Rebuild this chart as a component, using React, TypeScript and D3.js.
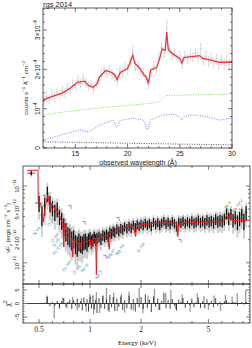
import React from 'react'
import * as d3 from 'd3'

// ---- top panel (RGS), units of 1e-4
const rgsModel: [number, number][] = [
  [11.9, 1.22], [12.5, 1.28], [13.0, 1.33], [13.7, 1.39], [14.5, 1.52], [15.2, 1.67], [15.9, 1.70],
  [16.2, 1.60], [16.7, 1.54], [17.1, 1.64], [17.3, 1.80], [17.9, 1.97], [18.5, 1.92], [18.8, 1.85],
  [19.0, 1.74], [19.3, 1.92], [20.0, 2.02], [20.2, 2.15], [20.5, 2.36], [20.7, 2.15], [21.2, 2.02],
  [21.6, 1.85], [21.8, 1.80], [22.0, 1.64], [22.2, 1.98], [22.8, 2.05], [23.1, 2.30], [23.3, 2.52],
  [23.6, 2.48], [23.75, 2.95], [23.9, 2.50], [24.3, 2.40], [25.0, 2.28], [25.2, 2.16], [25.4, 2.30],
  [25.7, 2.31], [26.9, 2.35], [27.2, 2.28], [28.1, 2.23], [28.8, 2.18], [30.0, 2.18]
]
const rgsWave = [12.0, 12.25, 12.5, 12.75, 13.0, 13.25, 13.5, 13.75, 14.0, 14.25, 14.5, 14.75, 15.0, 15.25,
  15.5, 15.75, 16.0, 16.25, 16.5, 16.75, 17.0, 17.25, 17.5, 17.75, 18.0, 18.25, 18.5, 18.75, 19.0, 19.25,
  19.5, 19.75, 20.0, 20.25, 20.5, 20.75, 21.0, 21.25, 21.5, 21.75, 22.0, 22.25, 22.5, 22.75, 23.0, 23.25,
  23.5, 23.75, 24.0, 24.25, 24.5, 24.75, 25.0, 25.25, 25.5, 25.75, 26.0, 26.25, 26.5, 26.75, 27.0, 27.25,
  27.5, 27.75, 28.0, 28.25, 28.5, 28.75, 29.0, 29.25, 29.5, 29.75]
const rgsFlux = [1.20, 1.30, 1.24, 1.36, 1.30, 1.40, 1.34, 1.44, 1.40, 1.52, 1.48, 1.62, 1.58, 1.72,
  1.64, 1.76, 1.66, 1.56, 1.62, 1.50, 1.64, 1.72, 1.90, 1.98, 1.90, 1.98, 1.88, 1.80, 1.72, 1.96,
  1.90, 2.06, 2.00, 2.22, 2.45, 2.08, 2.10, 1.94, 1.92, 1.76, 1.62, 1.92, 2.08, 2.00, 2.30, 2.56,
  2.42, 3.05, 2.50, 2.36, 2.42, 2.28, 2.34, 2.14, 2.34, 2.26, 2.38, 2.30, 2.40, 2.30, 2.52, 2.24,
  2.32, 2.20, 2.28, 2.16, 2.26, 2.12, 2.24, 2.14, 2.22, 2.12]
const rgsErr = [0.14, 0.15, 0.13, 0.15, 0.14, 0.15, 0.13, 0.14, 0.13, 0.14, 0.12, 0.14, 0.12, 0.14,
  0.12, 0.14, 0.12, 0.12, 0.12, 0.11, 0.12, 0.12, 0.13, 0.13, 0.12, 0.13, 0.12, 0.12, 0.13, 0.13,
  0.12, 0.13, 0.13, 0.14, 0.18, 0.13, 0.13, 0.12, 0.13, 0.13, 0.14, 0.13, 0.13, 0.13, 0.15, 0.15,
  0.14, 0.22, 0.14, 0.13, 0.13, 0.13, 0.13, 0.13, 0.13, 0.13, 0.13, 0.13, 0.13, 0.14, 0.16, 0.14,
  0.14, 0.14, 0.14, 0.14, 0.15, 0.15, 0.15, 0.15, 0.16, 0.16]
const rgsGreen: [number, number][] = [[11.9, 0.84], [14, 0.92], [16, 0.98], [18, 1.04], [20, 1.08], [22, 1.13],
  [23.0, 1.17], [23.3, 1.25], [23.6, 1.33], [26, 1.35], [30, 1.37]]
const rgsBlue: [number, number][] = [[11.9, 0.20], [13.5, 0.32], [15.4, 0.46], [16.3, 0.41], [17.3, 0.58],
  [18.6, 0.71], [19.0, 0.53], [19.3, 0.70], [20.5, 0.76], [21.5, 0.71], [21.9, 0.46], [22.2, 0.72],
  [23.4, 0.84], [24.5, 0.86], [25.0, 0.78], [25.2, 0.71], [25.4, 0.80], [26.2, 0.84], [27.5, 0.80],
  [28.8, 0.71], [30.0, 0.76]]
const rgsBlack: [number, number][] = [[11.9, 0.16], [16, 0.14], [20, 0.12], [25, 0.10], [30, 0.08]]

// ---- broadband spectrum, nuFnu in units of 1e-12
const modelE: [number, number][] = [
  [0.425, 16], [0.493, 16], [0.494, 6.2], [0.51, 6.0], [0.525, 4.0], [0.53, 3.4], [0.54, 5.0],
  [0.555, 6.5], [0.565, 7.6], [0.575, 5.5], [0.585, 4.5], [0.595, 6.0], [0.61, 5.3], [0.63, 4.8],
  [0.647, 4.6], [0.66, 4.0], [0.675, 3.6], [0.69, 3.3], [0.70, 1.6], [0.705, 3.2], [0.72, 2.7],
  [0.74, 2.4], [0.76, 2.2], [0.78, 2.1], [0.79, 1.2], [0.80, 2.0], [0.83, 1.85], [0.85, 1.8],
  [0.87, 1.5], [0.88, 1.8], [0.92, 1.85], [0.96, 1.9], [1.0, 2.0], [1.02, 1.5], [1.04, 2.05],
  [1.08, 2.1], [1.09, 0.7], [1.10, 2.1], [1.15, 2.15], [1.2, 2.2], [1.26, 2.3], [1.30, 1.5],
  [1.32, 2.4], [1.35, 2.6], [1.4, 2.4], [1.45, 2.7], [1.5, 2.75], [1.56, 2.85], [1.65, 2.9],
  [1.8, 3.0], [1.86, 2.2], [1.88, 3.0], [1.97, 3.1], [2.2, 3.2], [2.49, 3.3], [2.7, 3.3], [3.0, 3.3],
  [3.25, 3.3], [3.3, 2.2], [3.35, 3.2], [3.6, 3.3], [4.28, 3.35], [5.0, 3.4], [5.85, 3.4], [6.2, 3.45],
  [6.4, 4.2], [6.55, 3.6], [6.7, 4.3], [6.9, 3.55], [7.5, 3.55], [8.8, 3.6]
]
const energies = [0.45, 0.50, 0.52, 0.54, 0.56, 0.58, 0.60, 0.62, 0.64, 0.66, 0.68, 0.70, 0.72, 0.74,
  0.76, 0.78, 0.80, 0.82, 0.84, 0.86, 0.88, 0.90, 0.92, 0.94, 0.96, 0.98, 1.00, 1.02, 1.04, 1.06, 1.08,
  1.10, 1.13, 1.16, 1.19, 1.22, 1.25, 1.28, 1.31, 1.34, 1.37, 1.40, 1.44, 1.48, 1.52, 1.56, 1.60, 1.65,
  1.70, 1.75, 1.80, 1.85, 1.90, 1.95, 2.00, 2.06, 2.12, 2.18, 2.24, 2.30, 2.37, 2.44, 2.51, 2.58, 2.65,
  2.73, 2.81, 2.89, 2.97, 3.06, 3.15, 3.24, 3.34, 3.44, 3.54, 3.65, 3.76, 3.87, 3.99, 4.11, 4.23, 4.36,
  4.49, 4.62, 4.76, 4.90, 5.05, 5.20, 5.36, 5.52, 5.68, 5.85, 6.03, 6.21, 6.40, 6.59, 6.79, 6.99, 7.20,
  7.42, 7.64, 7.87, 8.10, 8.35]
const flux = [14.7, 6.0, 4.2, 5.5, 8.0, 6.0, 5.2, 4.6, 5.0, 4.0, 3.6, 3.0, 2.6, 2.3,
  2.2, 2.0, 2.1, 1.8, 1.7, 1.9, 1.8, 1.75, 1.9, 1.95, 1.8, 2.0, 2.1, 1.9, 2.0, 2.15, 2.0,
  2.1, 2.2, 2.05, 2.3, 2.2, 2.35, 2.2, 2.5, 2.4, 2.6, 2.5, 2.75, 2.6, 2.8, 2.7, 2.95, 2.8,
  3.0, 2.85, 3.1, 2.9, 3.15, 3.0, 3.2, 3.05, 3.3, 3.1, 3.25, 3.0, 3.4, 3.15, 3.35, 3.1, 3.3,
  3.5, 3.2, 3.4, 3.15, 3.45, 3.25, 3.0, 3.4, 3.3, 3.5, 3.25, 3.45, 3.3, 3.55, 3.3, 3.4, 3.6,
  3.35, 3.5, 3.3, 3.6, 3.4, 3.55, 3.35, 3.7, 3.45, 3.6, 3.5, 3.7, 4.4, 3.8, 4.3, 3.6, 3.9,
  3.4, 3.8, 4.2, 3.5, 4.5]
const fluxErr = [0.9, 1.4, 1.2, 1.4, 1.8, 1.4, 1.2, 1.1, 1.1, 0.9, 0.9, 0.8, 0.7, 0.6,
  0.6, 0.55, 0.55, 0.5, 0.5, 0.5, 0.45, 0.45, 0.45, 0.45, 0.4, 0.4, 0.4, 0.38, 0.38, 0.38, 0.36,
  0.36, 0.36, 0.35, 0.36, 0.35, 0.36, 0.35, 0.38, 0.36, 0.38, 0.36, 0.4, 0.38, 0.4, 0.38, 0.4, 0.4,
  0.42, 0.4, 0.42, 0.4, 0.42, 0.4, 0.42, 0.4, 0.44, 0.42, 0.44, 0.42, 0.45, 0.42, 0.45, 0.42, 0.45,
  0.46, 0.44, 0.46, 0.44, 0.46, 0.45, 0.44, 0.46, 0.46, 0.48, 0.46, 0.48, 0.48, 0.5, 0.48, 0.5, 0.52,
  0.5, 0.52, 0.52, 0.55, 0.55, 0.56, 0.56, 0.6, 0.6, 0.62, 0.62, 0.65, 0.7, 0.7, 0.72, 0.72, 0.75,
  0.75, 0.8, 0.85, 0.85, 0.95]
const chiBlack = [0, 0.1, -0.2, 0.3, 2.5, -1.0, 0.5, -0.8, 1.0, -1.5, 0.8, 2.0, -1.2, 0.6,
  1.5, -2.0, 1.2, -0.8, 1.8, -1.5, 0.9, -2.5, 2.2, -1.0, 1.6, -3.0, 2.5, -1.8, 3.0, -2.2, 1.4,
  -3.5, 2.0, -1.6, 2.8, -2.0, 1.5, -2.6, 3.2, -1.4, 2.4, -2.8, 1.8, -1.2, 2.6, -2.4, 1.2, -1.8,
  2.9, -2.2, 1.6, -3.0, 2.0, -1.4, 2.4, -2.0, 3.4, -1.6, 1.4, -3.2, 2.6, -1.2, 1.8, -2.4, 1.0,
  4.0, -1.8, 1.2, -2.0, 1.6, -0.8, -2.6, 1.4, 0.6, 2.0, -1.6, 1.0, -0.6, 1.8, -1.4, 0.4, 2.2,
  -1.6, 0.8, -1.8, 1.6, -0.6, 1.0, -1.4, 2.0, -0.8, 0.6, -0.4, 0.8, 1.2, 0.4, -0.2, 0.6, 0.4,
  -0.8, 0.2, 0.5, -0.4, 0.6]
const chiGray: [number, number][] = [[0.555, 3.0], [0.615, -5.5], [0.66, -2.2], [0.69, 2.2], [0.73, -1.8],
  [0.79, 2.5], [0.84, -2.6], [0.89, 2.0], [0.95, -3.0], [1.0, 3.5], [1.05, -4.0], [1.09, 4.2], [1.14, -3.5],
  [1.19, 3.0], [1.25, 5.8], [1.3, -3.2], [1.38, 4.0], [1.45, -2.8], [1.53, 3.6], [1.6, -3.4], [1.7, 4.4],
  [1.8, -2.6], [1.95, 5.8], [2.05, -3.6], [2.2, 3.0], [2.4, 5.5], [2.55, -2.4], [2.8, 3.8], [3.0, 5.0],
  [3.2, -2.0], [3.5, 3.4], [3.9, -3.0], [4.3, 3.8], [4.7, 2.8], [5.0, -2.4], [5.4, 3.0], [5.9, -2.8],
  [6.3, 3.2], [6.9, 2.5], [7.4, 3.8], [8.3, 5.0]]

const ionLabels: [string, number, number][] = [
  ['N VII', 0.486, 2.6], ['O VII', 0.589, 3.41], ['O VIII', 0.621, 2.11], ['O VII', 0.63, 1.82],
  ['Fe XVII', 0.647, 1.52], ['Fe XIX', 0.731, 0.914], ['O VIII', 0.838, 0.811], ['Ne IX', 0.934, 0.861],
  ['Ne X', 1.13, 0.699], ['Mg XI', 1.33, 1.31], ['Mg XII', 1.503, 1.475], ['Si XIII', 2.0, 1.566],
  ['Si XIV', 2.0, 3.31]
]
const feLabels: [string, number, number][] = [['Fe K', 6.53, 5.66], ['Fe XXV', 7.48, 5.5]]
const edgeMarks: [number, number][] = [[0.535, 7.2], [0.762, 5.34], [0.922, 3.31], [0.752, 1.566],
  [1.226, 1.197], [1.463, 3.73], [3.4, 1.93]]

const SANS = 'Liberation Sans, Arial, sans-serif'
const SERIF = 'Liberation Serif, Times New Roman, serif'

type Part = [string, string?]
function Rich({ parts, fs }: { parts: Part[]; fs: number }) {
  let shift = 0
  return (
    <>
      {parts.map(([t, k], i) => {
        const target = k === 'sup' ? -fs * 0.42 : k === 'sub' ? fs * 0.28 : 0
        const dy = target - shift
        shift = target
        return <tspan key={i} dy={dy} fontSize={k ? fs * 0.7 : fs}>{t}</tspan>
      })}
    </>
  )
}

export default function App() {
  // scales
  const tx = d3.scaleLinear().domain([11.9, 30]).range([43, 232])
  const ty = d3.scaleLinear().domain([0, 3.56]).range([148, 8])
  const ex = d3.scaleLog().domain([0.402, 8.8]).range([23, 250])
  const fy = d3.scaleLog().domain([0.53, 18.2]).range([284, 166])
  const cy = d3.scaleLinear().domain([-7.2, 7.2]).range([323, 284])

  const topLine = d3.line<[number, number]>().x(d => tx(d[0])).y(d => ty(d[1]))
  const modLine = d3.line<[number, number]>().x(d => ex(d[0])).y(d => fy(d[1]))

  // bin edges for broadband data (geometric midpoints)
  const edges = energies.map((e, i) => {
    const lo = i > 0 ? Math.sqrt(e * energies[i - 1]) : (e * e) / Math.sqrt(e * energies[1])
    const hi = i < energies.length - 1 ? Math.sqrt(e * energies[i + 1]) : (e * e) / Math.sqrt(e * energies[i - 1])
    return [lo, hi]
  })

  const tk = '#222'
  const ticks: JSX.Element[] = []
  let k = 0
  // top panel ticks
  d3.range(12, 31).forEach(v => {
    const L = v % 5 === 0 ? 4 : 2
    ticks.push(<line key={k++} x1={tx(v)} x2={tx(v)} y1={148} y2={148 - L} stroke={tk} strokeWidth={0.6} />)
    ticks.push(<line key={k++} x1={tx(v)} x2={tx(v)} y1={8} y2={8 + L} stroke={tk} strokeWidth={0.6} />)
  })
  d3.range(0, 3.5, 0.2).forEach(v => {
    const L = Math.abs(v - Math.round(v)) < 1e-6 ? 4 : 2
    ticks.push(<line key={k++} x1={43} x2={43 + L} y1={ty(v)} y2={ty(v)} stroke={tk} strokeWidth={0.6} />)
    ticks.push(<line key={k++} x1={232} x2={232 - L} y1={ty(v)} y2={ty(v)} stroke={tk} strokeWidth={0.6} />)
  })
  // energy ticks
  const eTicks = [0.5, 0.6, 0.7, 0.8, 0.9, 1, 2, 3, 4, 5, 6, 7, 8]
  eTicks.forEach(v => {
    const L = [0.5, 1, 2, 5].includes(v) ? 4 : 2
    const x = ex(v)
    ticks.push(<line key={k++} x1={x} x2={x} y1={166} y2={166 + L} stroke={tk} strokeWidth={0.6} />)
    ticks.push(<line key={k++} x1={x} x2={x} y1={284} y2={284 - L} stroke={tk} strokeWidth={0.6} />)
    ticks.push(<line key={k++} x1={x} x2={x} y1={284} y2={284 + L} stroke={tk} strokeWidth={0.6} />)
    ticks.push(<line key={k++} x1={x} x2={x} y1={323} y2={323 - L} stroke={tk} strokeWidth={0.6} />)
  })
  const fTicks = [0.6, 0.7, 0.8, 0.9, 1, 2, 3, 4, 5, 6, 7, 8, 9, 10]
  fTicks.forEach(v => {
    const L = v === 1 || v === 10 ? 4 : 2
    ticks.push(<line key={k++} x1={23} x2={23 + L} y1={fy(v)} y2={fy(v)} stroke={tk} strokeWidth={0.6} />)
    ticks.push(<line key={k++} x1={250} x2={250 - L} y1={fy(v)} y2={fy(v)} stroke={tk} strokeWidth={0.6} />)
  })
  d3.range(-7, 8, 1).forEach(v => {
    const L = v % 5 === 0 ? 4 : 1.5
    ticks.push(<line key={k++} x1={23} x2={23 + L} y1={cy(v)} y2={cy(v)} stroke={tk} strokeWidth={0.6} />)
    ticks.push(<line key={k++} x1={250} x2={250 - L} y1={cy(v)} y2={cy(v)} stroke={tk} strokeWidth={0.6} />)
  })

  const rotLabel = (x: number, y: number, parts: Part[], fs: number, key: string, font = SANS) => (
    <text key={key} transform={`translate(${x},${y}) rotate(-90)`} textAnchor="middle"
      fontFamily={font} fontSize={fs} fill="#222"><Rich parts={parts} fs={fs} /></text>
  )

  return (
    <svg width={252} height={348} style={{ position: 'absolute', left: 0, top: 0, background: '#fff' }}>
      {/* ---------- top panel ---------- */}
      <text x={43} y={7} fontFamily={SANS} fontSize={7.5} fill="#222">rgs 2014</text>
      <clipPath id="ctop"><rect x={43} y={8} width={189} height={140} /></clipPath>
      <g clipPath="url(#ctop)">
        {rgsWave.map((w, i) => (
          <g key={i} stroke="#bdbdbd" strokeWidth={0.6}>
            <line x1={tx(w)} x2={tx(w)} y1={ty(rgsFlux[i] - rgsErr[i])} y2={ty(rgsFlux[i] + rgsErr[i])} />
            <line x1={tx(w - 0.12)} x2={tx(w + 0.12)} y1={ty(rgsFlux[i])} y2={ty(rgsFlux[i])} />
          </g>
        ))}
        <path d={topLine(rgsModel) || ''} fill="none" stroke="#e8343a" strokeWidth={1.3} />
        <path d={topLine(rgsGreen) || ''} fill="none" stroke="#66dd44" strokeWidth={0.9} strokeDasharray="1,1.4" />
        <path d={topLine(rgsBlue) || ''} fill="none" stroke="#7070ee" strokeWidth={0.9} strokeDasharray="1,1.4" />
        <path d={topLine(rgsBlack) || ''} fill="none" stroke="#333" strokeWidth={0.8} strokeDasharray="1,1.4" />
      </g>
      <rect x={43} y={8} width={189} height={140} fill="none" stroke="#333" strokeWidth={0.8} />
      {[15, 20, 25, 30].map(v => (
        <text key={v} x={tx(v)} y={156} textAnchor="middle" fontFamily={SANS} fontSize={7} fill="#222">{v}</text>
      ))}
      <text x={138} y={164.5} textAnchor="middle" fontFamily={SANS} fontSize={7} fill="#222">observed wavelength (Å)</text>
      {rotLabel(39.5, ty(0), [['0']], 6.5, 'y0')}
      {rotLabel(39.5, ty(1), [['10'], ['−4', 'sup']], 6.5, 'y1')}
      {rotLabel(39.5, ty(2), [['2×10'], ['−4', 'sup']], 6.5, 'y2')}
      {rotLabel(39.5, ty(3), [['3×10'], ['−4', 'sup']], 6.5, 'y3')}
      {rotLabel(28, 88, [['counts s'], ['−1', 'sup'], [' Å'], ['−1', 'sup'], [' cm'], ['−2', 'sup']], 6.2, 'yt')}

      {/* ---------- middle panel ---------- */}
      <clipPath id="cmid"><rect x={23} y={166} width={227} height={118} /></clipPath>
      <g clipPath="url(#cmid)">
        {energies.map((e, i) => (
          <line key={'g' + i} x1={ex(e)} x2={ex(e)} y1={fy(Math.max(0.4, flux[i] - 1.7 * fluxErr[i]))}
            y2={fy(flux[i] + 1.7 * fluxErr[i])} stroke="#cccccc" strokeWidth={1.8} />
        ))}
        {energies.map((e, i) => (
          <g key={'b' + i} stroke="#111">
            <line x1={ex(e)} x2={ex(e)} y1={fy(Math.max(0.4, flux[i] - fluxErr[i]))} y2={fy(flux[i] + fluxErr[i])} strokeWidth={1.3} />
            <line x1={ex(edges[i][0])} x2={ex(edges[i][1])} y1={fy(flux[i])} y2={fy(flux[i])} strokeWidth={0.7} />
          </g>
        ))}
        <path d={modLine(modelE) || ''} fill="none" stroke="#ee1c1c" strokeWidth={1} />
        {edgeMarks.map(([e, f], i) => (
          <path key={'m' + i} transform={`translate(${ex(e)},${fy(f)})`} d="M-1.6,-1.4 L1,-1.4 L1,0.6 Q1,1.6 2,1.6"
            fill="none" stroke="#b050d8" strokeWidth={0.8} />
        ))}
        {ionLabels.map(([t, e, f], i) => (
          <text key={'l' + i} transform={`translate(${ex(e)},${fy(f)}) rotate(-55)`} textAnchor="middle"
            dominantBaseline="middle" fontFamily={SANS} fontSize={4.3} fill="#4a94c6">{t}</text>
        ))}
        {feLabels.map(([t, e, f], i) => (
          <text key={'f' + i} transform={`translate(${ex(e)},${fy(f)}) rotate(-55)`} textAnchor="middle"
            dominantBaseline="middle" fontFamily={SANS} fontSize={4.3} fill="#5a9a22">{t}</text>
        ))}
      </g>
      <rect x={23} y={166} width={227} height={118} fill="none" stroke="#333" strokeWidth={0.8} />
      {rotLabel(19, fy(10), [['10'], ['−11', 'sup']], 6, 'f10')}
      {rotLabel(19, fy(5), [['5×10'], ['−12', 'sup']], 6, 'f5')}
      {rotLabel(19, fy(2), [['2×10'], ['−12', 'sup']], 6, 'f2')}
      {rotLabel(19, fy(1), [['10'], ['−12', 'sup']], 6, 'f1')}
      {rotLabel(10, 228, [['νF'], ['ν', 'sub'], ['  (ergs cm'], ['−2', 'sup'], [' s'], ['−1', 'sup'], [')']], 6, 'ft')}

      {/* ---------- residual panel ---------- */}
      <clipPath id="cchi"><rect x={23} y={284} width={227} height={39} /></clipPath>
      <g clipPath="url(#cchi)">
        {chiGray.map(([e, c], i) => (
          <line key={'cg' + i} x1={ex(e)} x2={ex(e)} y1={cy(0)} y2={cy(c)} stroke="#9a9a9a" strokeWidth={1.3} />
        ))}
        {energies.map((e, i) => (
          <line key={'cb' + i} x1={ex(e)} x2={ex(e)} y1={cy(0)} y2={cy(chiBlack[i])} stroke="#111" strokeWidth={0.8} />
        ))}
        <line x1={ex(0.425)} x2={250} y1={cy(0)} y2={cy(0)} stroke="#111" strokeWidth={0.8} />
      </g>
      <rect x={23} y={284} width={227} height={39} fill="none" stroke="#333" strokeWidth={0.8} />
      {rotLabel(19, cy(5), [['5']], 6, 'c5')}
      {rotLabel(19, cy(0), [['0']], 6, 'c0')}
      {rotLabel(19, cy(-5), [['−5']], 6, 'cm5')}
      {rotLabel(10, cy(0), [['χ'], ['2', 'sup']], 6.5, 'ct')}

      {ticks}

      {[0.5, 1, 2, 5].map(v => (
        <text key={v} x={ex(v)} y={332} textAnchor="middle" fontFamily={SERIF} fontSize={7.5} fill="#222">{v}</text>
      ))}
      <text x={137} y={345} textAnchor="middle" fontFamily={SERIF} fontSize={7} fill="#222">Energy (keV)</text>
    </svg>
  )
}
